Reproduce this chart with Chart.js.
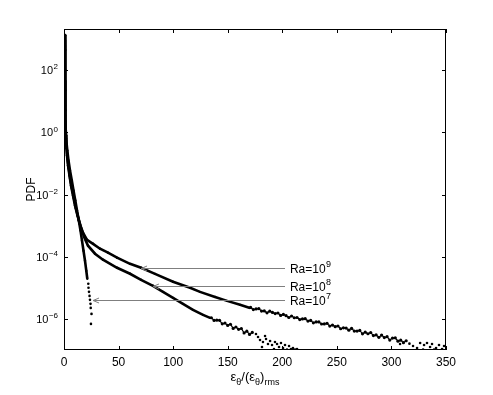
<!DOCTYPE html>
<html>
<head>
<meta charset="utf-8">
<script src="https://cdn.jsdelivr.net/npm/chart.js@4/dist/chart.umd.min.js"></script>
<style>
    html, body { margin: 0; padding: 0; background: #fff; }
    #wrap { width: 493px; height: 395px; }
</style>
</head>
<body>
<div id="wrap"><canvas id="chart_pdf" width="493" height="395"></canvas></div>
<script>
// tick values
var x_ticks = [0, 50, 100, 150, 200, 250, 300, 350];
var y_ticks = [1e-6, 1e-4, 1e-2, 1, 1e2];
var y_tick_exp = ['\u22126', '\u22124', '\u22122', '0', '2'];

// Ra = 10^9: dense part, ragged middle, scattered tail
var ra9_x = [1.2, 1.2, 1.25, 1.3, 1.4, 1.6, 1.9, 2.2, 2.75, 3.67, 5.04, 6.41, 8.25, 10.1, 12.4,
    14.7, 17.4, 21.1, 26.6, 33.0, 40.3, 48.6, 60.5, 70.6, 83.4, 99.9, 115.5, 124.6, 138.4, 149.4,
    161.3, 170.4];
var ra9_y = [1350, 442, 100, 22.6, 5.1, 1.68, 0.80, 0.38, 0.18, 0.086, 0.041, 0.0195, 0.0093, 0.0044, 0.0021,
    1.08e-3, 5.9e-4, 3.5e-4, 2.6e-4, 1.81e-4, 1.35e-4, 9.3e-5, 5.9e-5, 4.4e-5, 2.8e-5, 1.56e-5, 1.0e-5, 7.4e-6, 5.1e-6, 3.8e-6,
    2.83e-6, 2.26e-6];
var ra9_mid_x = [171, 173.5, 176, 178.5, 181, 183.5, 186, 188.5, 191, 193.5, 196, 198.5, 201, 203.5, 206, 208.5,
    211, 213.5, 216, 218.5, 221, 223.5, 226, 228.5, 231, 233.5, 236, 238.5, 241, 243.5, 246, 248.5,
    251, 253.5, 256, 258.5, 261, 263.5, 266, 268.5, 271, 273.5, 276, 278.5, 281, 283.5, 286, 288.5,
    291, 293.5, 296, 298.5, 301, 303.5, 306, 308.5, 311, 313.5];
var ra9_mid_y = [2.34e-6, 2.00e-6, 2.10e-6, 2.15e-6, 1.79e-6, 1.80e-6, 1.57e-6, 1.77e-6, 1.61e-6, 1.48e-6, 1.55e-6, 1.29e-6,
    1.39e-6, 1.27e-6, 1.11e-6, 1.24e-6, 1.09e-6, 1.11e-6, 9.5e-7, 9.98e-7, 1.02e-6, 8.5e-7, 8.95e-7, 7.46e-7,
    8.0e-7, 8.0e-7, 6.86e-7, 6.87e-7, 7.21e-7, 5.87e-7, 6.31e-7, 5.64e-7, 5.92e-7, 4.82e-7, 5.18e-7, 5.07e-7,
    4.33e-7, 4.98e-7, 4.06e-7, 4.06e-7, 4.27e-7, 3.32e-7, 3.73e-7, 3.33e-7, 3.66e-7, 2.92e-7, 3.06e-7, 2.55e-7,
    3.01e-7, 2.51e-7, 2.69e-7, 2.09e-7, 2.41e-7, 2.47e-7, 1.92e-7, 2.07e-7, 1.72e-7, 1.98e-7];
var ra9_tail_x = [307.9, 316.5, 319.8, 323.5, 326.3, 329.0, 329.9, 332.6, 335.4, 337.2, 339.1, 340.9, 343.6, 346.4, 348.2];
var ra9_tail_y = [1.56e-7, 1.6e-7, 1.35e-7, 1.16e-7, 1.68e-7, 1.03e-7, 1.45e-7, 1.68e-7, 1.25e-7, 1.56e-7, 1.03e-7, 1.16e-7, 1.45e-7, 1.08e-7, 1.35e-7];

// Ra = 10^8
var ra8_x = [0.9, 0.9, 0.95, 1.0, 1.1, 1.35, 1.8, 2.4, 3.21, 4.40, 5.68, 7.33, 9.16, 11.0, 13.3,
    15.6, 18.3, 22.0, 28.4, 35.7, 48.6, 60.5, 70.6, 81.5, 90.7, 99.9, 109.0, 118.2, 127.4, 133.8];
var ra8_y = [929, 210, 47.6, 10.8, 3.5, 1.35, 0.64, 0.305, 0.145, 0.069, 0.0328, 0.0156, 0.0074, 0.00353, 0.00168,
    8.6e-4, 4.4e-4, 2.26e-4, 1.25e-4, 8.0e-5, 4.4e-5, 2.83e-5, 1.81e-5, 1.16e-5, 7.4e-6, 4.75e-6, 3.05e-6, 1.95e-6, 1.35e-6, 1.08e-6];
var ra8_mid_x = [135, 137.5, 140, 142.5, 145, 147.5, 150, 152.5, 155, 157.5, 160, 162.5, 165, 167.5, 170, 172.5];
var ra8_mid_y = [1.09e-6, 8.95e-7, 9.08e-7, 9.0e-7, 6.92e-7, 7.35e-7, 6.19e-7, 6.73e-7, 4.94e-7, 5.5e-7, 4.63e-7, 4.92e-7,
    3.53e-7, 4.02e-7, 3.16e-7, 3.68e-7];
var ra8_tail_x = [175.9, 177.8, 179.6, 181.4, 182.3, 184.2, 185.1, 186.9, 188.8, 190.6, 192.4, 193.3, 195.2, 197.0,
    198.8, 200.7, 202.5, 204.3, 206.2, 208.0, 209.8, 211.7, 213.5];
var ra8_tail_y = [3.28e-7, 2.62e-7, 2.1e-7, 1.25e-7, 1.81e-7, 2.83e-7, 2.26e-7, 1.56e-7, 1.95e-7, 1.45e-7, 1.08e-7, 1.81e-7, 1.56e-7, 1.25e-7,
    1.68e-7, 1.16e-7, 1.45e-7, 1.03e-7, 1.35e-7, 1.08e-7, 1.16e-7, 1.03e-7, 1.08e-7];

// Ra = 10^7
var ra7_x = [0.7, 0.7, 0.75, 0.85, 1.05, 1.45, 2.1, 3.02, 4.12, 5.50, 7.15, 8.71, 10.35, 11.91, 13.56,
    15.12, 16.49, 17.87, 19.24, 20.43, 21.35];
var ra7_y = [640, 145, 32.8, 7.4, 2.44, 1.16, 0.55, 0.262, 0.125, 0.0594, 0.0283, 0.01345, 0.0064, 0.00305, 0.00145,
    6.9e-4, 3.28e-4, 1.56e-4, 7.4e-5, 3.53e-5, 1.95e-5];
var ra7_tail_x = [22.26, 22.45, 22.9, 23.4, 23.8, 24.3, 24.5, 25.2, 24.7];
var ra7_tail_y = [1.35e-5, 1.0e-5, 7.4e-6, 5.5e-6, 4.1e-6, 3.05e-6, 2.26e-6, 1.45e-6, 6.9e-7];

// arrow labels
var ann_base = ['Ra=10', 'Ra=10', 'Ra=10'];
var ann_exp = ['9', '8', '7'];
var ann_tip_x = [70.6, 81.5, 26.6];
var ann_y = [4.4e-5, 1.16e-5, 4.1e-6];
var ann_end_x = 202.5;
var ann_text_x = 207;

var FONT = '"Liberation Sans", Arial, Helvetica, sans-serif';

function pts(xs, ys) {
    var out = [];
    for (var i = 0; i < xs.length; ++i) out.push({x: xs[i], y: ys[i]});
    return out;
}

function line_set(xs, ys) {
    return {data: pts(xs, ys), showLine: true, borderColor: '#000', borderWidth: 2.6,
        pointRadius: 1.2, pointBackgroundColor: '#000', pointBorderWidth: 0};
}

// ragged band: dots joined by a thin line
function rag_set(xs, ys) {
    return {data: pts(xs, ys), showLine: true, borderColor: '#000', borderWidth: 1.2,
        pointRadius: 1.6, pointBackgroundColor: '#000', pointBorderWidth: 0};
}

function dot_set(xs, ys) {
    return {data: pts(xs, ys), showLine: false, pointRadius: 1.3,
        pointBackgroundColor: '#000', pointBorderWidth: 0};
}

// draws base text with a raised exponent, returns width
function power_text(ctx, base, exp, x, y, size, draw) {
    var es = Math.round(size * 0.72);
    ctx.font = size + 'px ' + FONT;
    var wb = ctx.measureText(base).width;
    ctx.font = es + 'px ' + FONT;
    var we = ctx.measureText(exp).width;
    if (draw) {
        ctx.font = size + 'px ' + FONT;
        ctx.fillText(base, x, y);
        ctx.font = es + 'px ' + FONT;
        ctx.fillText(exp, x + wb + 0.5, y - size * 0.42);
    }
    return wb + 0.5 + we;
}

var decor = {
    id: 'decor',
    afterDraw: function(chart) {
        var ctx = chart.ctx;
        var a = chart.chartArea;
        var sx = chart.scales.x, sy = chart.scales.y;
        var i, p;

        ctx.save();
        ctx.fillStyle = '#000';
        ctx.strokeStyle = '#000';
        ctx.lineWidth = 1;

        // frame
        ctx.strokeRect(Math.round(a.left) + 0.5, Math.round(a.top) + 0.5,
            Math.round(a.right - a.left) - 1, Math.round(a.bottom - a.top) - 1);

        // inward ticks
        ctx.beginPath();
        for (i = 0; i < x_ticks.length; ++i) {
            p = Math.round(sx.getPixelForValue(x_ticks[i])) + 0.5;
            ctx.moveTo(p, a.bottom); ctx.lineTo(p, a.bottom - 4);
            ctx.moveTo(p, a.top); ctx.lineTo(p, a.top + 4);
        }
        for (i = 0; i < y_ticks.length; ++i) {
            p = Math.round(sy.getPixelForValue(y_ticks[i])) + 0.5;
            ctx.moveTo(a.left, p); ctx.lineTo(a.left + 4, p);
            ctx.moveTo(a.right, p); ctx.lineTo(a.right - 4, p);
        }
        ctx.stroke();

        // y tick labels with superscripts
        ctx.textBaseline = 'alphabetic';
        ctx.textAlign = 'left';
        for (i = 0; i < y_ticks.length; ++i) {
            p = sy.getPixelForValue(y_ticks[i]);
            var w = power_text(ctx, '10', y_tick_exp[i], 0, 0, 11, false);
            power_text(ctx, '10', y_tick_exp[i], a.left - 6 - w, p + 4, 11, true);
        }

        // y title
        ctx.save();
        ctx.translate(35, (a.top + a.bottom) / 2);
        ctx.rotate(-Math.PI / 2);
        ctx.font = '12px ' + FONT;
        ctx.textAlign = 'center';
        ctx.fillText('PDF', 0, 0);
        ctx.restore();

        // x title: eps_theta / (eps_theta)_rms
        var parts = [['\u03b5', 0, 13], ['\u03b8', 4, 9], ['/(\u03b5', 0, 13], ['\u03b8', 4, 9], [')', 0, 13], ['rms', 4, 9]];
        var total = 0;
        for (i = 0; i < parts.length; ++i) {
            ctx.font = parts[i][2] + 'px ' + FONT;
            total += ctx.measureText(parts[i][0]).width;
        }
        var cx = (a.left + a.right) / 2 - total / 2;
        for (i = 0; i < parts.length; ++i) {
            ctx.font = parts[i][2] + 'px ' + FONT;
            ctx.fillText(parts[i][0], cx, 381 + parts[i][1]);
            cx += ctx.measureText(parts[i][0]).width;
        }

        // arrows and labels
        ctx.strokeStyle = '#7f7f7f';
        for (i = 0; i < ann_base.length; ++i) {
            var tx = sx.getPixelForValue(ann_tip_x[i]);
            var ty = Math.round(sy.getPixelForValue(ann_y[i])) + 0.5;
            var ex = sx.getPixelForValue(ann_end_x);
            ctx.beginPath();
            ctx.moveTo(ex, ty); ctx.lineTo(tx, ty);
            ctx.moveTo(tx + 6, ty - 2.5); ctx.lineTo(tx, ty); ctx.lineTo(tx + 6, ty + 2.5);
            ctx.stroke();
            power_text(ctx, ann_base[i], ann_exp[i], sx.getPixelForValue(ann_text_x), ty + 4, 12, true);
        }
        ctx.restore();
    }
};

var chart_config = {
    type: 'scatter',
    data: {
        datasets: [
            line_set(ra9_x, ra9_y), rag_set(ra9_mid_x, ra9_mid_y), dot_set(ra9_tail_x, ra9_tail_y),
            line_set(ra8_x, ra8_y), rag_set(ra8_mid_x, ra8_mid_y), dot_set(ra8_tail_x, ra8_tail_y),
            line_set(ra7_x, ra7_y), dot_set(ra7_tail_x, ra7_tail_y)
        ]
    },
    options: {
        responsive: false,
        animation: false,
        devicePixelRatio: 1,
        layout: { padding: { left: 0, top: 29, right: 47, bottom: 0 } },
        plugins: { legend: { display: false }, tooltip: { enabled: false } },
        scales: {
            x: {
                type: 'linear', min: 0, max: 350,
                afterBuildTicks: function(scale) {
                    scale.ticks = x_ticks.map(function(v) { return {value: v}; });
                },
                afterFit: function(scale) { scale.height = 45; },
                grid: { display: false, drawTicks: false },
                border: { display: false },
                ticks: { color: '#000', font: { size: 12, family: FONT }, padding: 5, maxRotation: 0 }
            },
            y: {
                type: 'logarithmic', min: 1e-7, max: 2.1e3, bounds: 'data',
                afterBuildTicks: function(scale) {
                    scale.ticks = y_ticks.map(function(v) { return {value: v}; });
                },
                afterFit: function(scale) { scale.width = 64; },
                grid: { display: false, drawTicks: false },
                border: { display: false },
                ticks: { display: false }
            }
        }
    },
    plugins: [decor]
};

var chart_pdf = new Chart(document.getElementById('chart_pdf'), chart_config);
</script>
</body>
</html>
